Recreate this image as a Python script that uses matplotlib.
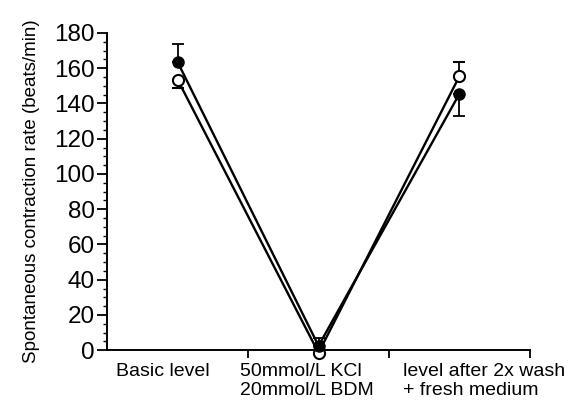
import numpy as np
import matplotlib.pyplot as plt
from matplotlib.ticker import MultipleLocator

plt.rcParams["font.family"] = ["Liberation Sans", "DejaVu Sans"]

# category positions (x) and readings from the figure
x_pos = [0.5, 1.5, 2.5]
filled_mean = [163.5, 2.5, 145.5]
filled_up = [10.5, 4.5, 0.0]
filled_down = [0.0, 0.0, 12.5]
open_mean = [153.5, -1.5, 155.5]
open_up = [0.0, 0.0, 8.0]
open_down = [4.5, 0.0, 0.0]

cat_labels = ["Basic level", "50mmol/L KCl\n20mmol/L BDM",
              "level after 2x wash\n+ fresh medium"]
# labels are left-aligned blocks in the original
label_pos = [0.06, 0.94, 2.1]

fig = plt.figure(figsize=(5.76, 4.12), dpi=100)
ax = fig.add_axes([0.186, 0.150, 0.734, 0.770])

ax.errorbar(x_pos, open_mean, yerr=[open_down, open_up], fmt="-o", color="black",
            mfc="white", mec="black", mew=1.5, ms=8, lw=1.7, capsize=4,
            elinewidth=1.3, capthick=1.3, clip_on=False, zorder=3)
ax.errorbar(x_pos, filled_mean, yerr=[filled_down, filled_up], fmt="-o", color="black",
            mfc="black", mec="black", ms=8, lw=1.7, capsize=4,
            elinewidth=1.3, capthick=1.3, clip_on=False, zorder=4)

ax.set_xlim(0, 3)
ax.set_ylim(0, 180)
ax.spines["top"].set_visible(False)
ax.spines["right"].set_visible(False)
ax.spines["left"].set_linewidth(1.4)
ax.spines["bottom"].set_linewidth(1.4)

ax.yaxis.set_major_locator(MultipleLocator(20))
ax.yaxis.set_minor_locator(MultipleLocator(5))
ax.tick_params(axis="y", which="major", length=7, width=1.3, labelsize=17.5, pad=2)
ax.tick_params(axis="y", which="minor", length=3, width=1.0)

ax.set_xticks([1, 2, 3])
ax.set_xticklabels([])
ax.set_xticks(label_pos, minor=True)
ax.set_xticklabels(cat_labels, minor=True)
ax.tick_params(axis="x", which="major", length=6, width=1.3)
ax.tick_params(axis="x", which="minor", length=0, labelsize=14, pad=9)
for lbl in ax.get_xticklabels(minor=True):
    lbl.set_horizontalalignment("left")
    lbl.set_multialignment("left")

ax.set_ylabel("Spontaneous contraction rate (beats/min)", fontsize=13.5, labelpad=10)

fig.savefig("out.png", dpi=100)
